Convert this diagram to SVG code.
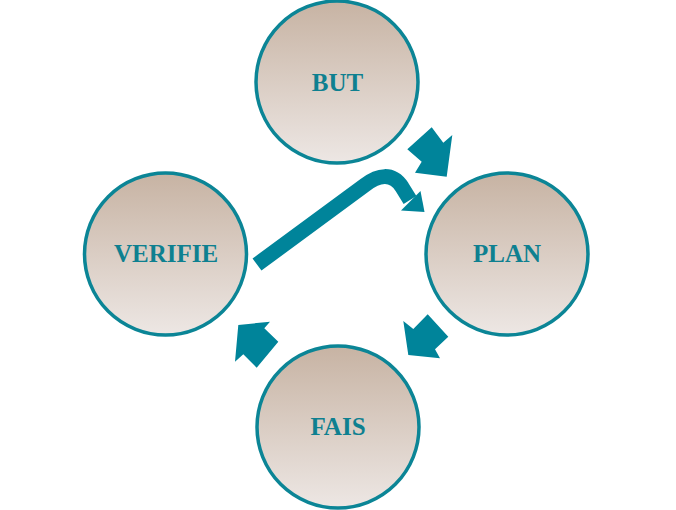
<svg xmlns="http://www.w3.org/2000/svg" width="676" height="510" viewBox="0 0 676 510">
<defs>
<linearGradient id="g" x1="0" y1="0" x2="0" y2="1">
<stop offset="0" stop-color="#c7b3a3"/>
<stop offset="1" stop-color="#ede7e4"/>
</linearGradient>
<style>
.c{fill:url(#g);stroke:#0b8596;stroke-width:3.5}
.t{font-family:"Liberation Serif","Times New Roman",serif;font-weight:bold;font-size:25px;fill:#0e8090;text-anchor:middle}
.a{fill:#00849a}
</style>
</defs>
<rect width="676" height="510" fill="#ffffff"/>
<g id="connectors">
<polygon class="a" points="431.7,127.3 443.3,142.7 452.3,135 446.7,176.7 415,172.7 421.7,161.7 407.3,149.3"/>
<polygon class="a" points="427.7,314.3 448.3,336.7 435,349.3 440,358.3 408.3,355 403.3,321 413.3,329"/>
<polygon class="a" points="238.3,325 270,321.7 264.3,328.3 278.3,341.7 256.7,367.7 243.3,354.3 235,361.7"/>
<path d="M257,264.5 L365,185 C378,175 392,172 402,187 L410,200" fill="none" stroke="#00849a" stroke-width="15"/>
<polygon class="a" points="420.5,191 424.5,212 401,210.5"/>
</g>
<g id="but">
<circle class="c" cx="337" cy="82" r="81"/>
<text class="t" x="337.5" y="91">BUT</text>
</g>
<g id="plan">
<circle class="c" cx="507" cy="254" r="81"/>
<text class="t" x="507" y="262">PLAN</text>
</g>
<g id="fais">
<circle class="c" cx="338" cy="427" r="81"/>
<text class="t" x="338" y="435">FAIS</text>
</g>
<g id="verifie">
<circle class="c" cx="165.5" cy="254" r="81"/>
<text class="t" x="166" y="262">VERIFIE</text>
</g>
</svg>
